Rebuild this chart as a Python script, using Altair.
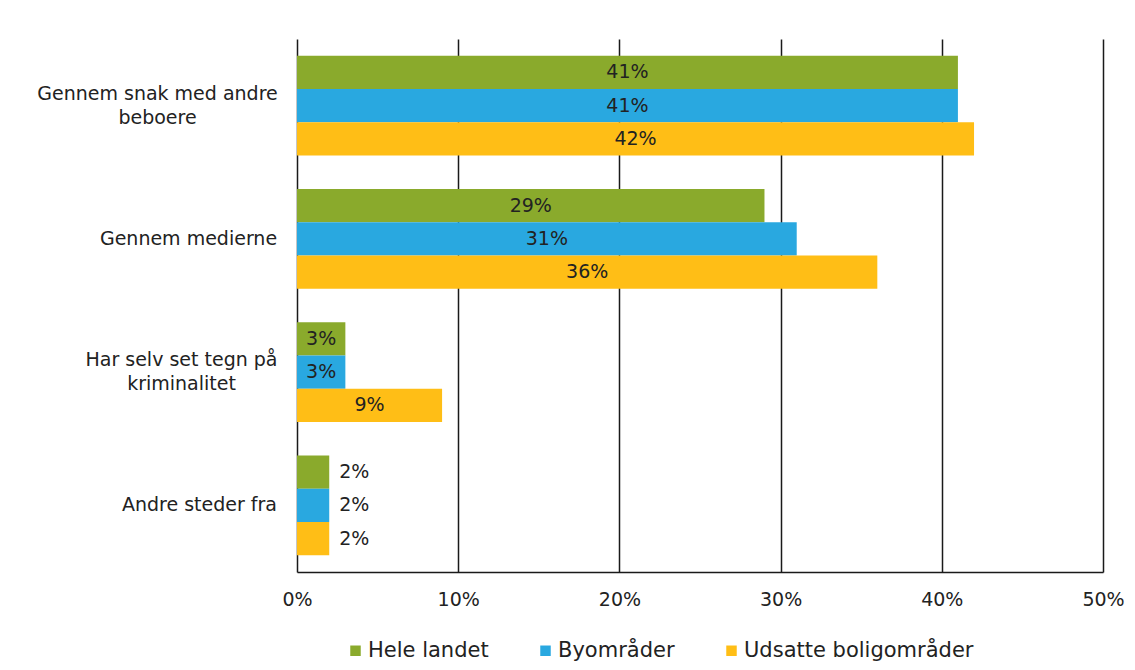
import altair as alt
import pandas as pd

categories = [
    "Gennem snak med andre beboere",
    "Gennem medierne",
    "Har selv set tegn på kriminalitet",
    "Andre steder fra",
]
category_lines = [
    ["Gennem snak med andre", "beboere"],
    ["Gennem medierne"],
    ["Har selv set tegn på", "kriminalitet"],
    ["Andre steder fra"],
]
series = ["Hele landet", "Byområder", "Udsatte boligområder"]
hele_landet = [41, 29, 3, 2]
byomraader = [41, 31, 3, 2]
udsatte = [42, 36, 9, 2]
colors = ["#8AAA2C", "#29A8E0", "#FFBE16"]
x_ticks = [0, 10, 20, 30, 40, 50]

FONT = "DejaVu Sans"
TXT = "#222222"

rows = []
for i, c in enumerate(categories):
    for s, vals in zip(series, [hele_landet, byomraader, udsatte]):
        rows.append({"kategori": c, "serie": s, "andel": vals[i], "label": f"{vals[i]}%"})
df = pd.DataFrame(rows)

parts = []
for c, lines in zip(categories, category_lines):
    if len(lines) > 1:
        arr = "[" + ", ".join("'" + l + "'" for l in lines) + "]"
        parts.append(f"datum.value == '{c}' ? {arr} : ")
label_expr = "".join(parts) + "datum.value"

half_w = {categories[0]: 120, categories[1]: 89, categories[2]: 96, categories[3]: 78}
pad_cond = [{"test": f"datum.value == '{c}'", "value": 20 + w} for c, w in half_w.items()]
off_cond = [
    {"test": f"datum.value == '{c}'", "value": -12}
    for c, lines in zip(categories, category_lines) if len(lines) > 1
]

y_enc = alt.Y(
    "kategori:N",
    sort=categories,
    scale=alt.Scale(paddingInner=0.25, paddingOuter=0.125),
    axis=alt.Axis(
        title=None, ticks=False, domain=False, grid=False, labelExpr=label_expr,
        labelFont=FONT, labelFontSize=19, labelColor=TXT,
        labelAlign="center",
        labelPadding={"condition": pad_cond, "value": 100},
        labelOffset={"condition": off_cond, "value": 0},
        labelLineHeight=24, labelLimit=400,
    ),
)
yoff = alt.YOffset("serie:N", sort=series, scale=alt.Scale(paddingInner=0, paddingOuter=0))

x_scale = alt.Scale(domain=[0, 50], nice=False)

base = alt.Chart(df)

bars = base.mark_bar(opacity=1).encode(
    x=alt.X(
        "andel:Q", scale=x_scale,
        axis=alt.Axis(
            title=None, values=x_ticks, labelExpr="datum.value + '%'",
            grid=True, gridColor="#1a1a1a", gridWidth=1.5, gridOpacity=1,
            ticks=False, domain=True, domainColor="#1a1a1a", domainWidth=1.5,
            labelFont=FONT, labelFontSize=19, labelColor=TXT, labelPadding=18,
            labelFlush=False,
        ),
    ),
    y=y_enc,
    yOffset=yoff,
    color=alt.Color(
        "serie:N", sort=series,
        scale=alt.Scale(domain=series, range=colors),
        legend=alt.Legend(
            orient="none", legendX=48, legendY=601, direction="horizontal",
            title=None, symbolType="square", symbolSize=110, symbolStrokeWidth=0,
            symbolOpacity=1, labelFont=FONT, labelFontSize=21, labelColor=TXT,
            columnPadding=46, labelOffset=2, padding=0, labelLimit=400,
        ),
    ),
)

inside = base.transform_filter("datum.andel >= 3").transform_calculate(
    mid="datum.andel / 2"
).mark_text(font=FONT, fontSize=19, color=TXT).encode(
    x=alt.X("mid:Q", scale=x_scale),
    y=y_enc,
    yOffset=yoff,
    text="label:N",
)

outside = base.transform_filter("datum.andel < 3").mark_text(
    font=FONT, fontSize=19, color=TXT, align="left", dx=10
).encode(
    x=alt.X("andel:Q", scale=x_scale),
    y=y_enc,
    yOffset=yoff,
    text="label:N",
)

chart = (
    alt.layer(bars, inside, outside)
    .properties(
        width=806, height=533,
        background="white",
        autosize=alt.AutoSizeParams(type="none"),
        padding={"left": 289, "top": 31, "right": 24, "bottom": 90},
    )
    .configure_view(stroke="transparent", strokeWidth=0)
)

chart.save("out.html", embed_options={"renderer": "svg", "actions": False})
